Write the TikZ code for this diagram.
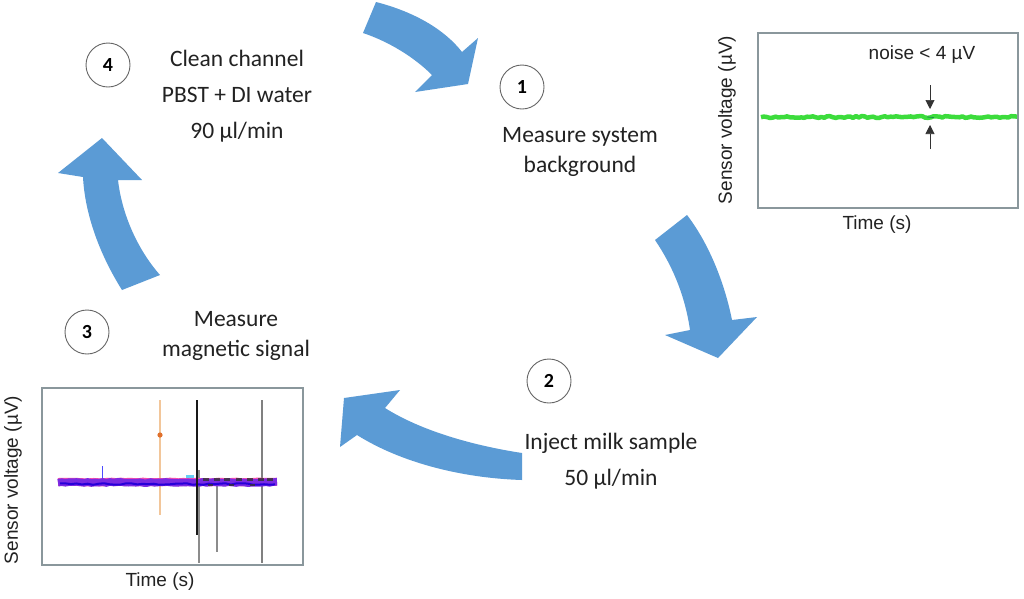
\documentclass[tikz,border=0pt]{standalone}
\usepackage{fontspec}
\setmainfont{Carlito}
\newfontfamily\chartfont{Liberation Sans}
\usetikzlibrary{arrows.meta}
\definecolor{arrowblue}{HTML}{5B9BD5}
\definecolor{boxgray}{HTML}{8A979C}
\definecolor{noisegreen}{HTML}{3CDC3C}
\definecolor{sigpurple}{HTML}{7A2BE2}
\definecolor{sigorange}{HTML}{F2C69A}
\definecolor{dotorange}{HTML}{E0702C}
\definecolor{labelgray}{HTML}{222222}
\begin{document}
\begin{tikzpicture}[x=1pt,y=-1pt,
  blockarrow/.style={fill=arrowblue, draw=none},
  stepnum/.style={circle, draw=black!60, line width=0.9pt, minimum size=44pt, inner sep=0pt,
    font=\bfseries\fontsize{20}{20}\selectfont},
  steplabel/.style={align=center, text=labelgray, font=\fontsize{23.5}{36}\selectfont},
  steplabeltight/.style={align=center, text=labelgray, font=\fontsize{23.5}{30}\selectfont},
  chartbox/.style={draw=boxgray, line width=1.2pt},
  charttext/.style={text=labelgray, font=\chartfont\fontsize{19}{19}\selectfont},
  noisemark/.style={-{Triangle[length=9pt,width=9pt]}, line width=0.6pt, black!80}
]
\useasboundingbox (0,0) rectangle (1024,598);
\fill[white] (0,0) rectangle (1024,598);

% ---------- block arrows ----------
% 4 -> 1 (top)
\fill[blockarrow] (363,33) -- (376,2)
  .. controls (415,12) and (445,30) .. (462,52)
  -- (478,38) -- (468,84) -- (415,92) -- (432,75)
  .. controls (415,58) and (390,42) .. (363,33) -- cycle;
% 1 -> 2 (right)
\fill[blockarrow] (655,240) -- (687,215)
  .. controls (710,245) and (725,285) .. (732,320)
  -- (757,317) -- (718,358) -- (665,335) -- (690,330)
  .. controls (685,295) and (672,265) .. (655,240) -- cycle;
% 2 -> 3 (bottom)
\fill[blockarrow] (522,480) -- (522,453)
  .. controls (470,445) and (420,430) .. (385,408)
  -- (400,390) -- (344,398) -- (340,447) -- (357,435)
  .. controls (400,462) and (460,478) .. (522,480) -- cycle;
% 3 -> 4 (left)
\fill[blockarrow] (122,290) -- (160,275)
  .. controls (138,250) and (122,215) .. (118,180)
  -- (142,180) -- (102,138) -- (58,173) -- (83,177)
  .. controls (85,215) and (100,255) .. (122,290) -- cycle;

% ---------- step markers and labels ----------
\node[stepnum] (n4) at (108,65) {4};
\node[steplabel] (t4) at (237,96) {Clean channel\\PBST + DI water\\90 µl/min};

\node[stepnum] (n1) at (522,87) {1};
\node[steplabeltight] (t1) at (580,152) {Measure system\\background};

\node[stepnum] (n2) at (549,381) {2};
\node[steplabel] (t2) at (611,461) {Inject milk sample\\50 µl/min};

\node[stepnum] (n3) at (87,332) {3};
\node[steplabeltight] (t3) at (236,336) {Measure\\magnetic signal};

% ---------- chart 1 (background) ----------
\draw[chartbox] (758,33) rectangle (1018,208);
\node[charttext] (c1n) at (922,55) {noise < 4 µV};
\node[charttext, rotate=90] (c1y) at (727,120) {Sensor voltage (µV)};
\node[charttext] (c1x) at (877,225) {Time (s)};
\pgfmathsetseed{7}
\draw[noisegreen, line width=4.5pt, line join=round]
  plot[domain=761:1017, samples=90, smooth] (\x, {117+0.9*rand});
\draw[teal!70!black, line width=0.8pt, opacity=0.6] (927,117) -- (934,117.5);
\coordinate (c1a) at (930,85);
\coordinate (c1b) at (930,109);
\coordinate (c1c) at (930,149);
\coordinate (c1d) at (930,125);
\draw[noisemark] (c1a) -- (c1b);
\draw[noisemark] (c1c) -- (c1d);

% ---------- chart 2 (signal) ----------
\draw[chartbox] (42,388) rectangle (303,565);
\node[charttext, rotate=90] (c2y) at (13,480) {Sensor voltage (µV)};
\node[charttext] (c2x) at (160,582) {Time (s)};
% spikes
\draw[sigorange, line width=1.6pt] (160,400) -- (160,515);
\fill[dotorange] (160,435) circle (2.6pt);
\draw[black!45, line width=1.4pt] (217,485) -- (217,552);
\draw[black!50, line width=1.8pt] (262,400) -- (262,563);
\draw[black!45, line width=1.6pt] (199,470) -- (199,563);
\draw[black!90, line width=2.6pt] (197,400) -- (197,535);
\draw[blue!70, line width=1pt] (102,466) -- (102,480);
% baseline band
\fill[cyan!60] (186,475) rectangle (194,479);
\pgfmathsetseed{11}
\draw[magenta!70, line width=8pt] plot[domain=58:277, samples=50] (\x, {482+0.4*rand});
\draw[sigpurple, line width=7.5pt] plot[domain=58:277, samples=60] (\x, {482.5+0.6*rand});
\draw[blue!70!violet, line width=2pt] plot[domain=60:275, samples=40] (\x, {484+0.8*rand});
\foreach \xx in {203,214,224,236,247,258,267}
  \draw[black!80, line width=2.2pt, opacity=0.8] (\xx,479.5) -- ++(6,0);
\foreach \xx in {208,229,250}
  \draw[black!80, line width=1.6pt, opacity=0.8] (\xx,485) -- ++(5,0);
\draw[black!90, line width=2.4pt] (197,472) -- (197,492);
\end{tikzpicture}
\end{document}
